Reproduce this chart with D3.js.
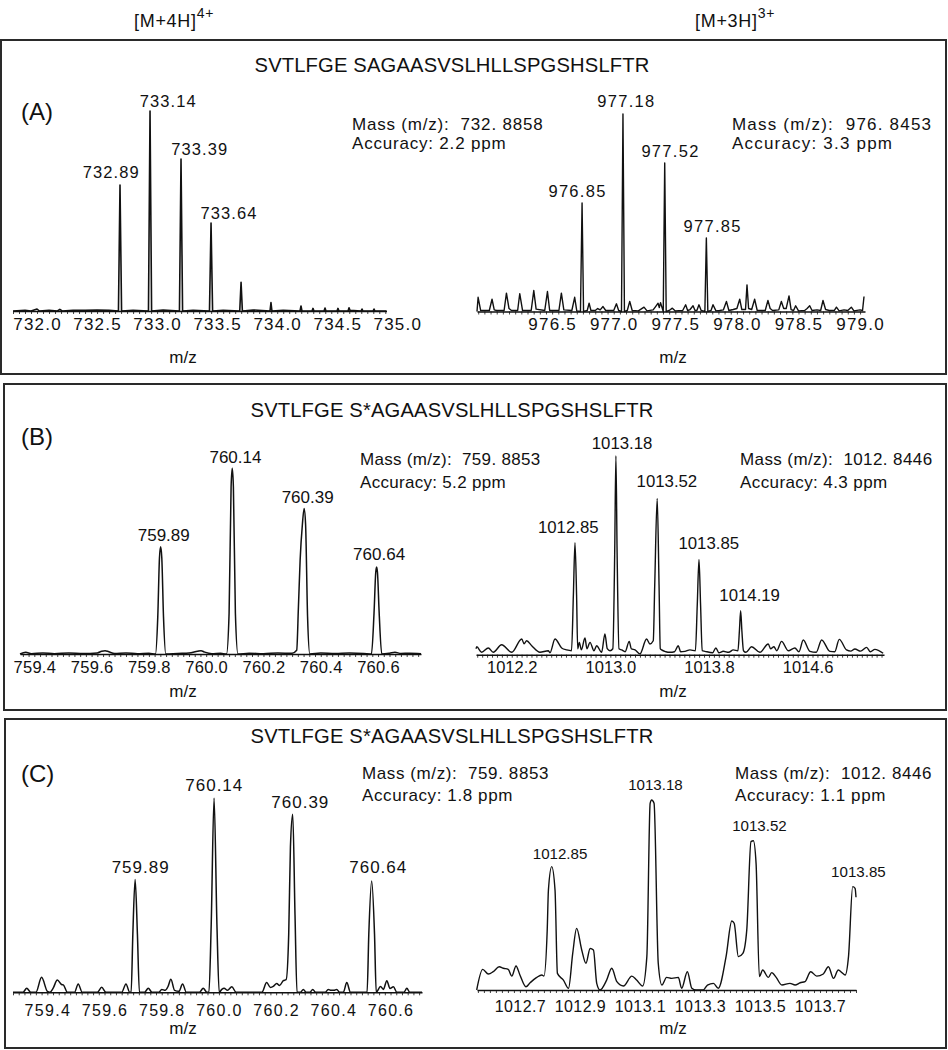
<!DOCTYPE html>
<html>
<head>
<meta charset="utf-8">
<script src="https://cdn.jsdelivr.net/npm/d3@7"></script>
<style>
  body { margin: 0; background: #fff; }
  svg { display: block; font-family: 'Liberation Sans', Arial, sans-serif; }
</style>
</head>
<body>
<svg id="chart" width="948" height="1050"></svg>
<script>
// ---------- data ----------
const chargeStates = ['[M+4H]', '[M+3H]'];
const chargeSup = ['4+', '3+'];
const panelTags = ['(A)', '(B)', '(C)'];
const peptides = [
  'SVTLFGE SAGAASVSLHLLSPGSHSLFTR',
  'SVTLFGE S*AGAASVSLHLLSPGSHSLFTR',
  'SVTLFGE S*AGAASVSLHLLSPGSHSLFTR'
];
const massLines = [
  ['Mass (m/z):  732. 8858', 'Accuracy: 2.2 ppm'],
  ['Mass (m/z):  976. 8453', 'Accuracy: 3.3 ppm'],
  ['Mass (m/z):  759. 8853', 'Accuracy: 5.2 ppm'],
  ['Mass (m/z):  1012. 8446', 'Accuracy: 4.3 ppm'],
  ['Mass (m/z):  759. 8853', 'Accuracy: 1.8 ppm'],
  ['Mass (m/z):  1012. 8446', 'Accuracy: 1.1 ppm']
];
const axisTitle = 'm/z';

// panel A, 4+ ion (x in axis units, y in % of base peak)
const aLeftTicks = [732.0, 732.5, 733.0, 733.5, 734.0, 734.5, 735.0];
const aLeftPeakText = ['732.89', '733.14', '733.39', '733.64'];
const aLeftPeakMz = [732.691, 732.941, 733.199, 733.449];
const aLeftPeakInt = [63, 100, 76, 44];
const aLeftTrace = [
  [731.80, 0], [731.90, 0.4], [731.95, 0], [732.00, 1.0], [732.02, 0], [732.10, 0.3], [732.17, 0],
  [732.19, 0.8], [732.21, 0], [732.30, 0.4], [732.40, 0.3], [732.50, 0.5], [732.60, 0.3],
  [732.678, 0], [732.691, 63], [732.704, 0], [732.80, 0.4], [732.928, 0], [732.941, 100], [732.954, 0],
  [733.05, 0.5], [733.186, 0], [733.199, 76], [733.212, 0], [733.30, 0.3],
  [733.436, 0], [733.449, 44], [733.462, 0], [733.55, 0.3], [733.688, 0], [733.699, 14.4], [733.71, 0],
  [733.80, 0.5], [733.94, 0], [733.948, 4.2], [733.956, 0], [734.05, 0.3], [734.19, 0], [734.198, 2.5],
  [734.206, 0], [734.29, 0], [734.298, 1.3], [734.306, 0], [734.39, 0], [734.398, 1.5], [734.406, 0],
  [734.498, 0], [734.506, 1.3], [734.514, 0], [734.59, 0], [734.598, 1.6], [734.606, 0.3],
  [734.698, 0], [734.706, 1.0], [734.714, 0], [734.798, 0], [734.806, 1.0], [734.814, 0], [734.91, 0]
];

// panel A, 3+ ion
const aRightTicks = [976.5, 977.0, 977.5, 978.0, 978.5, 979.0];
const aRightPeakText = ['976.85', '977.18', '977.52', '977.85'];
const aRightPeakMz = [976.743, 977.075, 977.414, 977.752];
const aRightPeakInt = [54.9, 100, 75.2, 37.2];
const aRightTrace = [
  [975.89, 0], [975.899, 7.2], [975.92, 0.5], [975.99, 0.5], [976.012, 6.2], [976.03, 0.8], [976.05, 0.5],
  [976.11, 0.5], [976.129, 9.3], [976.15, 1.5], [976.17, 0.5], [976.22, 0.5], [976.237, 9.0], [976.26, 0.5],
  [976.33, 0.5], [976.351, 10.6], [976.37, 1.2], [976.44, 0.5], [976.462, 10.1], [976.48, 0.5],
  [976.555, 0.5], [976.575, 9.3], [976.595, 0.8], [976.66, 0.5], [976.683, 7.2], [976.70, 0.3],
  [976.73, 0], [976.743, 54.9], [976.755, 0], [976.785, 0.5], [976.80, 4.2], [976.815, 0.5],
  [976.85, 0.5], [976.87, 1.5], [976.89, 0.8], [976.913, 2.5], [976.935, 0.5], [977.00, 0.5],
  [977.022, 3.9], [977.04, 0.5], [977.063, 0], [977.075, 100], [977.087, 0], [977.11, 0.5],
  [977.13, 5.1], [977.15, 0.5], [977.20, 0.3], [977.246, 2.2], [977.27, 0.3], [977.32, 0.8],
  [977.34, 2.5], [977.36, 4.2], [977.37, 2.0], [977.38, 4.5], [977.402, 0], [977.414, 75.2],
  [977.426, 0], [977.45, 0.5], [977.476, 1.7], [977.50, 0.3], [977.56, 0.5], [977.584, 3.4],
  [977.60, 0.5], [977.62, 1], [977.644, 2.9], [977.66, 0.5], [977.675, 0.5], [977.692, 3.4],
  [977.71, 0.5], [977.74, 0], [977.752, 37.2], [977.764, 0], [977.79, 0.5], [977.806, 3.4],
  [977.83, 0.3], [977.86, 0.5], [977.89, 0.8], [977.915, 5.1], [977.935, 0.5], [977.97, 1],
  [978.00, 1.5], [978.023, 6.2], [978.04, 1], [978.07, 1], [978.082, 13.5], [978.095, 1.5],
  [978.12, 1], [978.144, 6.2], [978.165, 0.5], [978.23, 0.5], [978.252, 5.6], [978.27, 1.5],
  [978.29, 0.5], [978.34, 0.8], [978.361, 5.1], [978.38, 1.5], [978.40, 1.5], [978.423, 7.9],
  [978.44, 1], [978.46, 0.5], [978.477, 2.9], [978.50, 0.3], [978.55, 0.5], [978.57, 1.5],
  [978.591, 2.9], [978.61, 0.5], [978.65, 0.8], [978.68, 0.5], [978.699, 5.6], [978.72, 1],
  [978.75, 0.5], [978.79, 0.5], [978.808, 2.2], [978.83, 0.3], [978.87, 0.8], [978.90, 0.5],
  [978.929, 2.2], [978.95, 0.3], [979.00, 0.8], [979.02, 0.5], [979.032, 7.6]
];

// panel B, 4+ ion
const bLeftTicks = [759.4, 759.6, 759.8, 760.0, 760.2, 760.4, 760.6];
const bLeftPeakText = ['759.89', '760.14', '760.39', '760.64'];
const bLeftPeakMz = [759.841, 760.091, 760.342, 760.595];
const bLeftPeakInt = [57.7, 100, 78.3, 46.9];
const bLeftTrace = [
  [759.35, 0], [759.37, 0.9], [759.39, 0.2], [759.43, 0.5], [759.47, 0.2], [759.52, 0.6], [759.57, 0.3],
  [759.62, 0.6], [759.635, 1.5], [759.647, 1.8], [759.66, 1.2], [759.68, 0.3], [759.72, 0.5],
  [759.76, 0.2], [759.80, 0.4], [759.823, 0], [759.831, 20], [759.837, 52], [759.841, 57.7],
  [759.845, 52], [759.851, 20], [759.859, 0], [759.90, 0.3], [759.94, 0.5], [759.97, 1.5],
  [759.982, 1.8], [759.995, 1.0], [760.02, 0.2], [760.05, 0.4], [760.071, 0], [760.08, 22],
  [760.087, 90], [760.091, 100], [760.095, 90], [760.102, 22], [760.111, 0], [760.15, 0.4],
  [760.20, 0.2], [760.25, 0.5], [760.30, 0.4], [760.316, 2], [760.322, 25], [760.328, 50.5],
  [760.336, 70], [760.342, 78.3], [760.347, 70], [760.354, 20], [760.362, 0], [760.40, 0.5],
  [760.45, 0.3], [760.50, 0.5], [760.55, 0.3], [760.577, 0], [760.586, 22], [760.592, 44],
  [760.595, 46.9], [760.598, 44], [760.604, 22], [760.613, 0], [760.64, 0.4], [760.659, 0.9],
  [760.68, 0.3], [760.71, 0.4], [760.75, 0.2]
];

// panel B, 3+ ion
const bRightTicks = [1012.2, 1013.0, 1013.8, 1014.6];
const bRightPeakText = ['1012.85', '1013.18', '1013.52', '1013.85', '1014.19'];
const bRightPeakMz = [1012.713, 1013.045, 1013.38, 1013.719, 1014.057];
const bRightPeakInt = [56.3, 100, 78.5, 47.9, 22.1];
const bRightTrace = [
  [1011.91, 3.0], [1011.916, 4.0], [1011.956, 1.2], [1012.01, 3.4], [1012.05, 1.2], [1012.118, 5.0],
  [1012.20, 1.2], [1012.281, 7.9], [1012.30, 5.5], [1012.321, 7.0], [1012.362, 4.5], [1012.429, 1.2],
  [1012.496, 2.0], [1012.51, 1.0], [1012.551, 7.9], [1012.605, 3.4], [1012.646, 2.4], [1012.685, 2.0],
  [1012.70, 30], [1012.713, 56.3], [1012.726, 30], [1012.735, 3], [1012.748, 6.2], [1012.765, 2.5],
  [1012.794, 8.4], [1012.81, 3], [1012.835, 6.2], [1012.867, 2.0], [1012.889, 4.5], [1012.929, 1.2],
  [1012.956, 10.4], [1012.975, 3], [1012.997, 2.0], [1013.02, 3], [1013.035, 50], [1013.045, 100],
  [1013.055, 50], [1013.07, 3], [1013.092, 2.4], [1013.12, 1.5], [1013.153, 6.7], [1013.17, 3],
  [1013.20, 2.4], [1013.24, 0.4], [1013.294, 7.9], [1013.321, 5.4], [1013.348, 7.0], [1013.36, 35],
  [1013.38, 78.5], [1013.395, 35], [1013.405, 3], [1013.416, 2.4], [1013.45, 1.5], [1013.483, 1.2],
  [1013.52, 1.5], [1013.551, 4.5], [1013.57, 1.5], [1013.605, 1.7], [1013.646, 2.4], [1013.69, 2.0],
  [1013.705, 25], [1013.719, 47.9], [1013.732, 25], [1013.745, 2], [1013.767, 1.7], [1013.83, 1.0],
  [1013.856, 3.4], [1013.88, 1.0], [1013.916, 1.7], [1013.96, 1.2], [1013.997, 2.4], [1014.035, 2],
  [1014.047, 12], [1014.057, 22.1], [1014.067, 12], [1014.08, 2], [1014.10, 1.2], [1014.146, 4.0],
  [1014.213, 1.2], [1014.281, 5.4], [1014.30, 3], [1014.327, 4.0], [1014.35, 2], [1014.389, 6.7],
  [1014.443, 2.0], [1014.497, 3.4], [1014.53, 1.5], [1014.565, 7.4], [1014.619, 1.7], [1014.67, 1.2],
  [1014.714, 7.4], [1014.781, 1.7], [1014.82, 1.5], [1014.857, 7.7], [1014.916, 2.4], [1014.95, 1.8],
  [1014.984, 2.9], [1015.03, 1.8], [1015.079, 3.7], [1015.11, 1.5], [1015.146, 2.7], [1015.213, 0.7]
];

// panel C, 4+ ion
const cLeftTicks = [759.4, 759.6, 759.8, 760.0, 760.2, 760.4, 760.6];
const cLeftPeakText = ['759.89', '760.14', '760.39', '760.64'];
const cLeftPeakMz = [759.707, 759.983, 760.258, 760.534];
const cLeftPeakInt = [58.2, 100, 91.8, 57.4];
const cLeftTrace = [
  [759.28, 0], [759.315, 0], [759.328, 2.1], [759.342, 0], [759.36, 0], [759.38, 7.7], [759.40, 0.5],
  [759.409, 0], [759.42, 2], [759.435, 6.3], [759.45, 4], [759.456, 3.8], [759.47, 0], [759.495, 0],
  [759.508, 4.3], [759.522, 0], [759.575, 0], [759.59, 2.6], [759.605, 0], [759.66, 0], [759.675, 4.3],
  [759.688, 0], [759.693, 0], [759.699, 30], [759.707, 58.2], [759.715, 30], [759.722, 0], [759.74, 0],
  [759.753, 2.1], [759.766, 0], [759.79, 0], [759.80, 1.5], [759.812, 1], [759.822, 3], [759.832, 6.7],
  [759.845, 1], [759.86, 0.5], [759.873, 4.3], [759.886, 0], [759.932, 0], [759.945, 2.1], [759.958, 0],
  [759.965, 0], [759.973, 35], [759.983, 100], [759.993, 35], [760.001, 0], [760.01, 1.5], [760.018, 2.1],
  [760.03, 1], [760.045, 2.9], [760.06, 0], [760.15, 0], [760.167, 5.0], [760.18, 2.5], [760.19, 3],
  [760.202, 4.6], [760.212, 3.5], [760.225, 6.0], [760.235, 6.5], [760.244, 30], [760.25, 75],
  [760.258, 91.8], [760.266, 40], [760.273, 0], [760.285, 0], [760.295, 1.5], [760.305, 0], [760.318, 0],
  [760.328, 1.5], [760.338, 0], [760.372, 0], [760.382, 1.5], [760.392, 1], [760.402, 1], [760.412, 1.5],
  [760.422, 0], [760.435, 0], [760.447, 5.0], [760.46, 0], [760.518, 0], [760.524, 30], [760.534, 57.4],
  [760.544, 30], [760.55, 0], [760.565, 3], [760.575, 1.5], [760.587, 6.0], [760.598, 2], [760.61, 2.9],
  [760.622, 0], [760.647, 0], [760.657, 2.1], [760.667, 0], [760.71, 0]
];

// panel C, 3+ ion
const cRightTicks = [1012.7, 1012.9, 1013.1, 1013.3, 1013.5, 1013.7];
const cRightPeakText = ['1012.85', '1013.18', '1013.52', '1013.85'];
const cRightPeakMz = [1012.806, 1013.139, 1013.478, 1013.809];
const cRightPeakInt = [64.7, 99.6, 78.3, 54.2];
const cRightTrace = [
  [1012.556, 0], [1012.576, 10.8], [1012.595, 8.4], [1012.611, 9.6], [1012.631, 12.2], [1012.645, 11.4],
  [1012.661, 10.8], [1012.673, 7.3], [1012.687, 12.6], [1012.70, 7.9], [1012.72, 1.7], [1012.734, 3.8],
  [1012.756, 6.6], [1012.773, 7.9], [1012.78, 7.3], [1012.791, 31.5], [1012.795, 52.4], [1012.806, 64.7],
  [1012.817, 52.4], [1012.825, 8.7], [1012.845, 5.2], [1012.862, 0.9], [1012.876, 19.2], [1012.889, 32.3],
  [1012.906, 21.0], [1012.92, 14.0], [1012.934, 21.8], [1012.945, 21.0], [1012.956, 3.5], [1012.967, 0],
  [1012.989, 5.2], [1013.006, 11.4], [1013.023, 4.4], [1013.045, 2.1], [1013.073, 7.3], [1013.089, 5.2],
  [1013.109, 2.1], [1013.123, 17.5], [1013.134, 97.9], [1013.139, 99.6], [1013.147, 97.9], [1013.161, 14.0],
  [1013.173, 2.6], [1013.189, 6.6], [1013.206, 6.1], [1013.228, 6.6], [1013.239, 0.9], [1013.258, 9.6],
  [1013.273, 0.9], [1013.287, 0], [1013.311, 0], [1013.325, 2.6], [1013.345, 3.5], [1013.361, 0.9],
  [1013.387, 17.5], [1013.406, 36.2], [1013.414, 35.0], [1013.428, 17.5], [1013.443, 19.2], [1013.456, 31.5],
  [1013.47, 77.8], [1013.478, 78.3], [1013.487, 66.4], [1013.498, 7.0], [1013.509, 10.5], [1013.528, 6.6],
  [1013.539, 9.1], [1013.554, 6.6], [1013.573, 2.6], [1013.60, 3.5], [1013.617, 2.6], [1013.634, 3.8],
  [1013.65, 4.4], [1013.669, 9.6], [1013.689, 7.3], [1013.711, 8.4], [1013.728, 12.2], [1013.745, 6.1],
  [1013.761, 10.5], [1013.773, 9.1], [1013.784, 7.9], [1013.795, 17.5], [1013.809, 54.2], [1013.817, 53.3],
  [1013.82, 48.6]
];

const spectra = [
  {ticks: aLeftTicks, peakText: aLeftPeakText, peakMz: aLeftPeakMz, peakInt: aLeftPeakInt, trace: aLeftTrace, mass: massLines[0]},
  {ticks: aRightTicks, peakText: aRightPeakText, peakMz: aRightPeakMz, peakInt: aRightPeakInt, trace: aRightTrace, mass: massLines[1]},
  {ticks: bLeftTicks, peakText: bLeftPeakText, peakMz: bLeftPeakMz, peakInt: bLeftPeakInt, trace: bLeftTrace, mass: massLines[2]},
  {ticks: bRightTicks, peakText: bRightPeakText, peakMz: bRightPeakMz, peakInt: bRightPeakInt, trace: bRightTrace, mass: massLines[3]},
  {ticks: cLeftTicks, peakText: cLeftPeakText, peakMz: cLeftPeakMz, peakInt: cLeftPeakInt, trace: cLeftTrace, mass: massLines[4]},
  {ticks: cRightTicks, peakText: cRightPeakText, peakMz: cRightPeakMz, peakInt: cRightPeakInt, trace: cRightTrace, mass: massLines[5]}
];

// ---------- layout (pixels / styles) ----------
const boxes = [
  {x0: 1, x1: 946, y0: 40, y1: 374, titleY: 72, tagY: 119.5, mzY: 363},
  {x0: 4, x1: 946, y0: 384, y1: 710, titleY: 417, tagY: 445, mzY: 697},
  {x0: 5, x1: 946, y0: 719, y1: 1048, titleY: 743, tagY: 782, mzY: 1034}
];

const layout = [
  {box: 0, dom: [731.8, 734.91], xr: [13, 386.5], base: 311, top: 111, minor: 0.05, curve: d3.curveLinear, lw: 1.6,
   tickFs: 17, tickLs: 1.2, tickBase: 330, peakFs: 16.5, peakLs: 1.1,
   peakOff: [[-8.7, 6.7], [18.3, 4], [18.8, 4], [18, 3.7]], massX: 352, massY: [130, 149], massLs: 0.8, mzX: 183},
  {box: 0, dom: [975.89, 979.04], xr: [477, 865], base: 311.5, top: 114, minor: 0.05, curve: d3.curveLinear, lw: 1.4,
   tickFs: 17, tickLs: 1.2, tickBase: 330, peakFs: 16.5, peakLs: 1.3,
   peakOff: [[-4.5, 5.7], [3.4, 7.3], [5.8, 6.3], [6.3, 6.3]], massX: 732, massY: [130, 149], massLs: 1.2, mzX: 673},
  {box: 1, dom: [759.35, 760.75], xr: [20, 421], base: 654, top: 468.3, minor: 0.02, curve: d3.curveMonotoneX, lw: 1.5,
   tickFs: 16.5, tickLs: 0.3, tickBase: 673, peakFs: 17, peakLs: 0,
   peakOff: [[3.1, 5.7], [3.2, 5.6], [3.5, 5.6], [2.5, 6.7]], massX: 360, massY: [465, 488], massLs: 0.3, mzX: 183},
  {box: 1, dom: [1011.91, 1015.22], xr: [476, 884], base: 654.7, top: 455.7, minor: 0.04, curve: d3.curveMonotoneX, lw: 1.4,
   tickFs: 16.5, tickLs: 0, tickBase: 673, peakFs: 16.8, peakLs: 0,
   peakOff: [[-6.7, 10], [6.2, 6.4], [9.7, 11.6], [9.8, 10.6], [9, 10]], massX: 740, massY: [465, 488], massLs: 0.4, mzX: 673},
  {box: 2, dom: [759.28, 760.71], xr: [13, 422], base: 992.3, top: 798.3, minor: 0.02, curve: d3.curveMonotoneX, lw: 1.5,
   tickFs: 16, tickLs: 1.3, tickBase: 1016, peakFs: 17, peakLs: 1,
   peakOff: [[5.5, 6], [0.2, 7.6], [7.6, 6], [6.6, 7.7]], massX: 362, massY: [779, 801], massLs: 0.6, mzX: 183},
  {box: 2, dom: [1012.557, 1013.82], xr: [477, 856], base: 990, top: 799.3, minor: 0.02, curve: d3.curveMonotoneX, lw: 1.4,
   tickFs: 16, tickLs: 0.4, tickBase: 1012, peakFs: 15.1, peakLs: 0,
   peakOff: [[8.3, 7.4], [3.8, 10], [6.1, 10], [5.7, 9.4]], massX: 735, massY: [779, 801], massLs: 0.6, mzX: 673}
];

const ink = '#111';
const svg = d3.select('#chart');

// charge-state headers
const headerX = [134, 695];
chargeStates.forEach((label, i) => {
  const t = svg.append('text')
    .attr('x', headerX[i]).attr('y', 27)
    .attr('font-size', 18).attr('letter-spacing', 0.7).attr('fill', ink)
    .text(label);
  t.append('tspan').attr('dy', -9).attr('font-size', 14).text(chargeSup[i]);
});

// panel frames, titles and tags
boxes.forEach((b, i) => {
  svg.append('rect')
    .attr('x', b.x0).attr('y', b.y0)
    .attr('width', b.x1 - b.x0).attr('height', b.y1 - b.y0)
    .attr('fill', 'none').attr('stroke', '#2a2a2a').attr('stroke-width', 2);

  svg.append('text')
    .attr('x', 452).attr('y', b.titleY)
    .attr('text-anchor', 'middle')
    .attr('font-size', 20.2).attr('letter-spacing', 0.15).attr('fill', ink)
    .text(peptides[i]);

  svg.append('text')
    .attr('x', 21).attr('y', b.tagY)
    .attr('font-size', 24).attr('fill', ink)
    .text(panelTags[i]);
});

// spectra
spectra.forEach((s, i) => {
  const L = layout[i];
  const box = boxes[L.box];
  const x = d3.scaleLinear().domain(L.dom).range(L.xr);
  const y = d3.scaleLinear().domain([0, 100]).range([L.base, L.top]);
  const g = svg.append('g').attr('class', 'spectrum');

  // minor tick marks and axis line
  const start = Math.ceil(L.dom[0] / L.minor) * L.minor;
  const minorTicks = d3.range(start, L.dom[1] + 1e-9, L.minor);
  const tickAxis = d3.axisBottom(x)
    .tickValues(minorTicks)
    .tickSize(3)
    .tickSizeOuter(0)
    .tickFormat('');
  g.append('g')
    .attr('transform', `translate(0,${L.base})`)
    .attr('color', ink)
    .call(tickAxis)
    .call(a => a.select('.domain').attr('stroke-width', 1.4))
    .call(a => a.selectAll('.tick line').attr('stroke-width', 0.8));

  // tick labels
  const labelAxis = d3.axisBottom(x)
    .tickValues(s.ticks)
    .tickSize(0)
    .tickFormat(d3.format('.1f'));
  g.append('g')
    .attr('transform', `translate(0,${L.base})`)
    .call(labelAxis)
    .call(a => a.select('.domain').remove())
    .call(a => a.selectAll('.tick text')
      .attr('y', L.tickBase - L.base).attr('dy', null)
      .attr('fill', ink)
      .attr('font-family', "'Liberation Sans', Arial, sans-serif")
      .attr('font-size', L.tickFs)
      .attr('letter-spacing', L.tickLs));

  // spectrum trace
  const line = d3.line()
    .x(d => x(d[0]))
    .y(d => y(d[1]))
    .curve(L.curve);
  g.append('path')
    .datum(s.trace)
    .attr('d', line)
    .attr('fill', 'none')
    .attr('stroke', ink)
    .attr('stroke-width', L.lw)
    .attr('stroke-linejoin', 'round');

  // peak annotations
  g.selectAll('text.peak')
    .data(s.peakText)
    .join('text')
    .attr('class', 'peak')
    .attr('x', (d, k) => x(s.peakMz[k]) + L.peakOff[k][0])
    .attr('y', (d, k) => y(s.peakInt[k]) - L.peakOff[k][1])
    .attr('text-anchor', 'middle')
    .attr('font-size', L.peakFs)
    .attr('letter-spacing', L.peakLs)
    .attr('fill', ink)
    .text(d => d);

  // mass / accuracy note
  g.selectAll('text.mass')
    .data(s.mass)
    .join('text')
    .attr('class', 'mass')
    .attr('x', L.massX)
    .attr('y', (d, k) => L.massY[k])
    .attr('font-size', 17)
    .attr('letter-spacing', L.massLs)
    .attr('fill', ink)
    .style('white-space', 'pre')
    .text(d => d);

  // axis title
  g.append('text')
    .attr('x', L.mzX).attr('y', box.mzY)
    .attr('text-anchor', 'middle')
    .attr('font-size', 17).attr('fill', ink)
    .text(axisTitle);
});
</script>
</body>
</html>
